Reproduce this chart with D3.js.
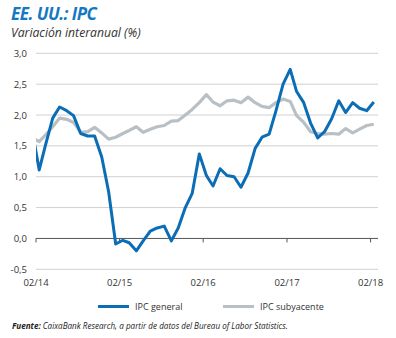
<!DOCTYPE html>
<html><head><meta charset="utf-8">
<script src="https://cdn.jsdelivr.net/npm/d3@7"></script>
<style>
body{margin:0;background:#fff;}
svg{display:block;font-family:"Open Sans",Lato,sans-serif;}
</style></head>
<body><svg id="c" width="396" height="338"></svg>
<script>
// Monthly data, Jan 2014 .. Feb 2018 (plotted at mid-month)
const months = ["2014-01","2014-02","2014-03","2014-04","2014-05","2014-06","2014-07","2014-08","2014-09","2014-10","2014-11","2014-12",
"2015-01","2015-02","2015-03","2015-04","2015-05","2015-06","2015-07","2015-08","2015-09","2015-10","2015-11","2015-12",
"2016-01","2016-02","2016-03","2016-04","2016-05","2016-06","2016-07","2016-08","2016-09","2016-10","2016-11","2016-12",
"2017-01","2017-02","2017-03","2017-04","2017-05","2017-06","2017-07","2017-08","2017-09","2017-10","2017-11","2017-12",
"2018-01","2018-02"];
const ipcGeneral = [1.75,1.11,1.52,1.95,2.13,2.07,1.99,1.70,1.66,1.66,1.32,0.76,
-0.09,-0.03,-0.07,-0.20,-0.04,0.12,0.17,0.20,-0.04,0.17,0.50,0.73,
1.37,1.02,0.85,1.13,1.02,1.00,0.83,1.06,1.46,1.64,1.69,2.07,
2.50,2.74,2.38,2.20,1.87,1.63,1.73,1.94,2.23,2.04,2.20,2.11,
2.07,2.21];
const ipcSubyacente = [1.63,1.57,1.68,1.81,1.95,1.93,1.88,1.72,1.73,1.80,1.71,1.61,
1.64,1.70,1.75,1.81,1.72,1.77,1.81,1.83,1.90,1.91,2.00,2.09,
2.20,2.33,2.21,2.15,2.23,2.24,2.20,2.29,2.20,2.14,2.12,2.20,
2.26,2.22,1.99,1.88,1.73,1.70,1.69,1.70,1.69,1.78,1.71,1.77,
1.83,1.85];
const yTicks = [-0.5,0,0.5,1,1.5,2,2.5,3];
const xTickLabels = ["02/14","02/15","02/16","02/17","02/18"];
const seriesNames = ["IPC general","IPC subyacente"];
const colors = ["#0b6db5","#b9c0c5"];

const svg = d3.select("#c");
const parse = d3.timeParse("%Y-%m");
const dates = months.map(m => d3.timeDay.offset(parse(m), 14));
const x = d3.scaleTime().domain([new Date(2014,1,1), new Date(2018,2,1)]).range([36,377]);
const y = d3.scaleLinear().domain([-0.5,3]).range([269.3,53.3]);
const fmt = v => d3.format(".1f")(v).replace(".",",").replace("−","-");

// title
svg.append("text").attr("x",11).attr("y",20).text("EE. UU.: IPC")
  .attr("fill","#1478c2").attr("font-size",17).attr("font-weight","bold").attr("font-style","italic")
  .attr("font-family","'Open Sans',sans-serif").attr("letter-spacing","-0.5");
svg.append("text").attr("x",11).attr("y",37).text("Variación interanual (%)")
  .attr("fill","#333").attr("font-size",12.2).attr("font-style","italic");

// grid
svg.append("g").selectAll("line").data(yTicks.filter(d=>d!==0)).join("line")
  .attr("x1",36).attr("x2",378).attr("y1",d=>y(d)).attr("y2",d=>y(d))
  .attr("stroke","#d0d0d0").attr("stroke-width",1);
svg.append("g").selectAll("text").data(yTicks).join("text")
  .attr("x",27).attr("y",d=>y(d)+3.5).attr("text-anchor","end")
  .attr("font-size",9.5).attr("fill","#333").text(d=>fmt(d));

// zero axis with ticks
const tickDates = xTickLabels.map(s => d3.timeParse("%m/%y")(s));
svg.append("line").attr("x1",36).attr("x2",378).attr("y1",y(0)).attr("y2",y(0))
  .attr("stroke","#555").attr("stroke-width",1);
svg.append("g").selectAll("line").data(tickDates).join("line")
  .attr("x1",d=>x(d)).attr("x2",d=>x(d)).attr("y1",y(0)).attr("y2",y(0)+4)
  .attr("stroke","#555").attr("stroke-width",1);
svg.append("g").selectAll("text").data(tickDates).join("text")
  .attr("x",d=>x(d)).attr("y",286).attr("text-anchor","middle")
  .attr("font-size",9.5).attr("fill","#333").text((d,i)=>xTickLabels[i]);

// clip
svg.append("clipPath").attr("id","clp").append("rect").attr("x",36).attr("y",0).attr("width",345).attr("height",338);
const line = d3.line().x((d,i)=>x(dates[i])).y(d=>y(d));
const g = svg.append("g").attr("clip-path","url(#clp)");
g.append("path").datum(ipcSubyacente).attr("d",line).attr("fill","none")
  .attr("stroke",colors[1]).attr("stroke-width",3.2).attr("stroke-linejoin","round");
g.append("path").datum(ipcGeneral).attr("d",line).attr("fill","none")
  .attr("stroke",colors[0]).attr("stroke-width",3).attr("stroke-linejoin","round");

// legend
const lx = [98,223];
seriesNames.forEach((n,i)=>{
  svg.append("line").attr("x1",lx[i]).attr("x2",lx[i]+31).attr("y1",306.5).attr("y2",306.5)
    .attr("stroke",colors[i]).attr("stroke-width",3);
  svg.append("text").attr("x",lx[i]+37).attr("y",310).attr("font-size",9).attr("fill","#333").text(n);
});

// source
const src = svg.append("text").attr("x",12).attr("y",329).attr("font-size",8.1).attr("fill","#222").attr("font-style","italic");
src.append("tspan").attr("font-weight","bold").text("Fuente: ");
src.append("tspan").text("CaixaBank Research, a partir de datos del Bureau of Labor Statistics.");
</script></body></html>
